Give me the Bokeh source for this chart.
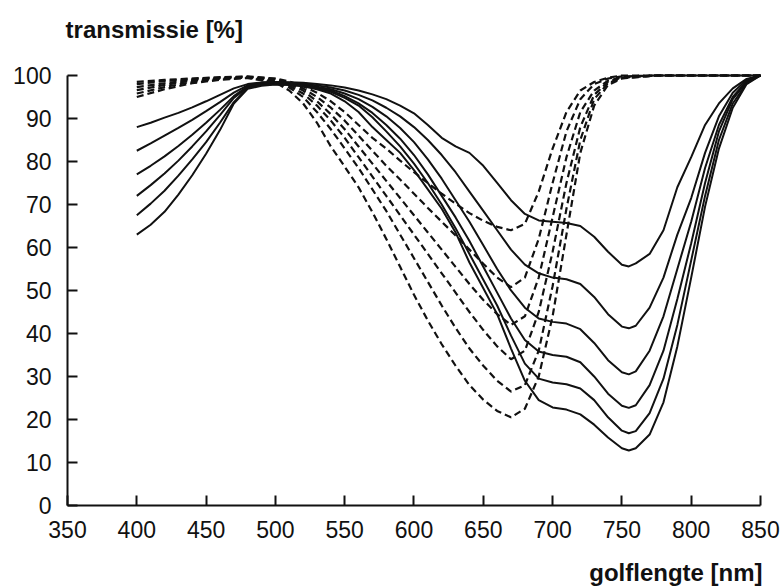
from bokeh.plotting import figure
from bokeh.models import Range1d, FixedTicker, Label
from bokeh.embed import file_html
from bokeh.resources import INLINE

# wavelengths (nm)
wl_solid = [400, 410, 420, 430, 440, 450, 460, 470, 480, 490, 500, 510, 520, 530,
            540, 550, 560, 570, 580, 590, 600, 610, 620, 630, 640, 650, 660, 670, 680, 690,
            700, 710, 720, 730, 740, 750, 755,
            760, 770, 780, 790, 800, 810, 820, 830, 840, 850]
solid_1 = [88, 89, 90.2, 91.3, 92.6, 94, 95.5, 97, 98, 98.4, 98.5, 98.4, 98.3, 98,
           97.7, 97.2, 96.5, 95.6, 94.5, 93, 91.2, 88.5, 85.5, 83.5, 82, 79, 75, 71, 67.8, 66.3,
           66, 65.7, 65, 62.5, 59, 56, 55.6,
           56.3, 58.5, 64, 74, 81, 88.5, 93.5, 97, 99.2, 100]
solid_2 = [82.5, 84.2, 86, 87.8, 89.7, 91.7, 93.8, 96, 97.7, 98.3, 98.4, 98.3, 98.1, 97.7,
           97.2, 96.5, 95.5, 94.2, 92.5, 90.5, 88, 85, 81.5, 77.5, 73, 68.5, 64, 59.5, 56, 54,
           53, 52.6, 51.5, 48.5, 44.5, 41.6, 41.2,
           41.8, 46, 53, 63, 71.5, 82, 90.5, 96, 99, 100]
solid_3 = [77, 79, 81.2, 83.6, 86.2, 89, 92, 95.2, 97.5, 98.1, 98.3, 98.2, 97.9, 97.4,
           96.8, 95.8, 94.5, 92.7, 90.5, 87.8, 84.5, 80.5, 76, 71, 66, 60.5, 55, 50, 46, 43.5,
           42.7, 42.3, 41, 37.8, 33.8, 31, 30.5,
           31.2, 36, 44, 55, 66, 78.5, 88.5, 95, 98.7, 100]
solid_4 = [72, 74.5, 77.2, 80.2, 83.5, 87, 90.8, 94.8, 97.3, 97.9, 98.1, 98, 97.7, 97.2,
           96.5, 95.2, 93.5, 91.3, 88.5, 85.3, 81.5, 77, 72, 67, 61.5, 55.5, 49.5, 43.5, 38.5, 35.8,
           35, 34.6, 33.3, 30, 26, 23.2, 22.7,
           23.3, 28, 36, 48, 61, 75, 87, 94.5, 98.5, 100]
solid_5 = [67.5, 70.2, 73.2, 76.7, 80.5, 84.5, 89, 93.8, 97.1, 97.8, 98, 97.9, 97.6, 97,
           96.2, 94.8, 93, 90.3, 87, 83.5, 79.5, 75, 70, 64.5, 58.5, 52.5, 46.5, 39.5, 33, 29.5,
           28.6, 28.2, 27.2, 24.5, 20.5, 17.4, 16.8,
           17.3, 21.5, 29.5, 42, 57, 72, 85, 93.5, 98.2, 100]
solid_6 = [63, 65.3, 68.3, 72.3, 76.8, 81.8, 87.3, 93.5, 96.9, 97.6, 97.9, 97.8, 97.5, 96.8,
           95.8, 94, 91.5, 88, 85, 82, 78, 73.5, 69, 63.5, 56.5, 50.5, 44.5, 36.5, 29, 24.5,
           22.8, 22.3, 21.2, 18.8, 15.8, 13.3, 12.8,
           13.3, 16.5, 24, 37, 53, 69.5, 83, 92.5, 98, 100]

wl_dashed = [400, 420, 440, 460, 480,
             500, 510, 520, 530, 540, 550, 560, 570, 580, 590, 600, 610, 620, 630, 640, 650,
             660, 670, 680, 690, 700, 710, 720, 730, 740, 750,
             775, 800, 825, 850]
dashed_1 = [98.5, 99, 99.3, 99.6, 99.8,
            99.3, 98.6, 97.5, 96, 94, 91.5, 88.5, 85.5, 83, 80.2, 77.5, 75, 72.5, 70.2, 68, 66.2,
            64.8, 64, 65.5, 73, 83, 91.5, 96.5, 98.5, 99.5, 100,
            100, 100, 100, 100]
dashed_2 = [98, 98.7, 99.2, 99.5, 99.7,
            99.2, 98.3, 97, 95, 92.5, 89.5, 86, 82.5, 79, 75.8, 72.5, 69.2, 66, 62.8, 59.5, 56.2,
            53, 50.8, 53, 62, 75, 87, 94.5, 98, 99.3, 99.8,
            100, 100, 100, 100]
dashed_3 = [97.3, 98.2, 99, 99.4, 99.6,
            99, 98, 96.5, 94, 91, 87.5, 83.5, 79.5, 75.5, 71.5, 67.5, 63.5, 59.5, 55.5, 51.5, 47.8,
            44.5, 42, 44, 53, 67, 81, 91.5, 96.5, 98.8, 99.6,
            100, 100, 100, 100]
dashed_4 = [96.6, 97.8, 98.8, 99.3, 99.5,
            98.8, 97.6, 95.8, 93, 89.5, 85.5, 81, 76.5, 72, 67.5, 63, 58.5, 54, 49.5, 45, 40.8,
            37, 34, 36, 45, 59, 75, 88, 95.5, 98.5, 99.5,
            100, 100, 100, 100]
dashed_5 = [95.8, 97.3, 98.5, 99.2, 99.5,
            98.6, 97.2, 95, 91.5, 87.5, 83, 78.5, 73.5, 68.5, 63, 57.5, 52, 46.5, 41.3, 36.5, 32.5,
            29, 26.5, 28, 36, 51, 69, 85, 94.5, 98.2, 99.4,
            100, 100, 100, 100]
dashed_6 = [95, 96.8, 98.2, 99, 99.4,
            98.4, 96.5, 93.5, 89, 83.5, 78.8, 74, 68.2, 62, 55.5, 49, 43, 37.5, 32.5, 28, 24.6,
            22, 20.5, 22.5, 30, 44, 63, 82, 93, 97.8, 99.3,
            100, 100, 100, 100]

x_ticks = [350, 400, 450, 500, 550, 600, 650, 700, 750, 800, 850]
y_ticks = [0, 10, 20, 30, 40, 50, 60, 70, 80, 90, 100]
y_title = "transmissie [%]"
x_title = "golflengte [nm]"

# frame covers the whole canvas; axes are pinned at x=350 and y=0
p = figure(width=784, height=586, output_backend="svg", toolbar_location=None,
           x_range=Range1d(301.66, 867.32), y_range=Range1d(-18.84, 117.44),
           min_border=0, min_border_left=0, min_border_right=0,
           min_border_top=0, min_border_bottom=0)
p.outline_line_color = None
p.background_fill_color = "white"
p.border_fill_color = "white"
p.xgrid.grid_line_color = None
p.ygrid.grid_line_color = None

p.xaxis.fixed_location = 0
p.yaxis.fixed_location = 350
p.xaxis.bounds = (350, 850)
p.yaxis.bounds = (0, 100)

for ax, ticks in ((p.xaxis[0], x_ticks), (p.yaxis[0], y_ticks)):
    ax.ticker = FixedTicker(ticks=ticks)
    ax.major_tick_in = 10
    ax.major_tick_out = 0
    ax.minor_tick_line_color = None
    ax.axis_line_width = 2
    ax.major_tick_line_width = 2
    ax.axis_line_color = "#111111"
    ax.major_tick_line_color = "#111111"
    ax.major_label_text_font = "Liberation Sans"
    ax.major_label_text_font_size = "23px"
    ax.major_label_text_color = "#111111"
p.xaxis.major_label_standoff = 16
p.yaxis.major_label_standoff = 16

for ys in (solid_1, solid_2, solid_3, solid_4, solid_5, solid_6):
    p.line(wl_solid, ys, line_color="#111111", line_width=2)
for ys in (dashed_1, dashed_2, dashed_3, dashed_4, dashed_5, dashed_6):
    p.line(wl_dashed, ys, line_color="#111111", line_width=2.2, line_dash="7 4")

p.add_layout(Label(x=348.6, y=110.7, text=y_title, text_align="left", text_baseline="middle",
                   text_font="Liberation Sans", text_font_style="bold",
                   text_font_size="24px", text_color="#111111"))
p.add_layout(Label(x=851.5, y=-15.6, text=x_title, text_align="right", text_baseline="middle",
                   text_font="Liberation Sans", text_font_style="bold",
                   text_font_size="24px", text_color="#111111"))

open("out.html", "w").write(file_html(p, INLINE))
